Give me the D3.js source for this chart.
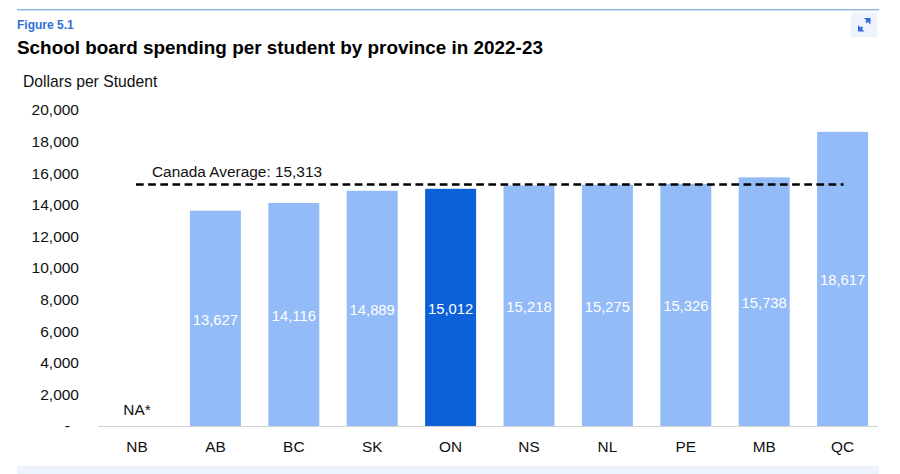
<!DOCTYPE html>
<html>
<head>
<meta charset="utf-8">
<script src="https://cdn.jsdelivr.net/npm/d3@7"></script>
<style>
  html, body { margin: 0; padding: 0; background: #fff; overflow: hidden; }
  text { font-family: "Liberation Sans", Arial, sans-serif; }
</style>
</head>
<body>
<script>
// values
const provinces = ["NB", "AB", "BC", "SK", "ON", "NS", "NL", "PE", "MB", "QC"];
const spending = [null, 13627, 14116, 14889, 15012, 15218, 15275, 15326, 15738, 18617];
const yTicks = [0, 2000, 4000, 6000, 8000, 10000, 12000, 14000, 16000, 18000, 20000];
const canadaAverage = 15313;
const highlighted = "ON";

const width = 900, height = 474;

const svg = d3.select("body").append("svg")
  .attr("width", width)
  .attr("height", height)
  .style("display", "block");

const x = d3.scaleBand()
  .domain(provinces)
  .range([97.8, 881.8])
  .paddingInner(0.35)
  .paddingOuter(0.175);

const y = d3.scaleLinear()
  .domain([0, 20000])
  .range([426, 110]);

// page furniture
svg.append("rect")
  .attr("x", 17).attr("y", 9)
  .attr("width", 862).attr("height", 1.4)
  .attr("fill", "#8db2e8");

svg.append("text")
  .attr("x", 17).attr("y", 28.5)
  .attr("font-size", 12)
  .attr("font-weight", "bold")
  .attr("fill", "#2f6fd6")
  .text("Figure 5.1");

svg.append("text")
  .attr("x", 17).attr("y", 54)
  .attr("font-size", 18.9)
  .attr("font-weight", "bold")
  .attr("fill", "#000")
  .text("School board spending per student by province in 2022-23");

// expand button
const btn = svg.append("g").attr("transform", "translate(851,12.5)");
btn.append("rect")
  .attr("width", 26).attr("height", 24.5)
  .attr("rx", 2)
  .attr("fill", "#edf3fd");
btn.append("path")
  .attr("d", "M7 12.5 L7 19 L13.5 19 Z M19.5 5.5 L13 5.5 L19.5 12 Z")
  .attr("fill", "#2f6fd6");
btn.append("path")
  .attr("d", "M8 18 L11.5 14.5 M18.5 6.5 L15 10")
  .attr("fill", "none")
  .attr("stroke", "#2f6fd6")
  .attr("stroke-width", 1.8);

svg.append("text")
  .attr("x", 23).attr("y", 86.5)
  .attr("font-size", 15.7)
  .attr("fill", "#111")
  .text("Dollars per Student");

// y axis
const yAxis = svg.append("g")
  .attr("transform", "translate(79,0)")
  .call(d3.axisLeft(y)
    .tickValues(yTicks)
    .tickSize(0)
    .tickPadding(0)
    .tickFormat(d => d === 0 ? "-" : d3.format(",")(d)));
yAxis.select(".domain").remove();
yAxis.selectAll("text")
  .attr("font-size", 15.5)
  .attr("font-family", "Liberation Sans, Arial, sans-serif")
  .attr("fill", "#111");
yAxis.selectAll(".tick")
  .filter(d => d === 0)
  .select("text")
  .attr("x", -9);

// bars
const barData = provinces.map((p, i) => ({ province: p, value: spending[i] }))
  .filter(d => d.value !== null);

svg.append("g").selectAll("rect")
  .data(barData)
  .join("rect")
  .attr("x", d => x(d.province))
  .attr("y", d => y(d.value))
  .attr("width", x.bandwidth())
  .attr("height", d => y(0) - y(d.value))
  .attr("fill", d => d.province === highlighted ? "#0c60d8" : "#93bbf7");

svg.append("g").selectAll("text")
  .data(barData)
  .join("text")
  .attr("x", d => x(d.province) + x.bandwidth() / 2)
  .attr("y", d => y(d.value / 2) + 1)
  .attr("dy", "0.35em")
  .attr("text-anchor", "middle")
  .attr("font-size", 14.8)
  .attr("fill", "#fff")
  .text(d => d3.format(",")(d.value));

// x axis
svg.append("line")
  .attr("x1", 98).attr("x2", 878)
  .attr("y1", y(0) + 0.5).attr("y2", y(0) + 0.5)
  .attr("stroke", "#d2d2d2")
  .attr("stroke-width", 1);

const xAxis = svg.append("g")
  .attr("transform", "translate(0," + y(0) + ")")
  .call(d3.axisBottom(x).tickSize(0).tickPadding(15));
xAxis.select(".domain").remove();
xAxis.selectAll("text")
  .attr("font-size", 15.4)
  .attr("font-family", "Liberation Sans, Arial, sans-serif")
  .attr("fill", "#111");

// NB has no data
svg.append("text")
  .attr("x", x("NB") + x.bandwidth() / 2)
  .attr("y", y(0) - 11.5)
  .attr("text-anchor", "middle")
  .attr("font-size", 15.4)
  .attr("fill", "#111")
  .text("NA*");

// average line
svg.append("line")
  .attr("x1", x("NB") + x.bandwidth() / 2 - 1)
  .attr("x2", x("QC") + x.bandwidth() / 2 + 1)
  .attr("y1", y(canadaAverage) + 0.5)
  .attr("y2", y(canadaAverage) + 0.5)
  .attr("stroke", "#000")
  .attr("stroke-width", 2.4)
  .attr("stroke-dasharray", "7.7 4.45");

svg.append("text")
  .attr("x", 152).attr("y", 176.5)
  .attr("font-size", 15.4)
  .attr("fill", "#111")
  .text("Canada Average: " + d3.format(",")(canadaAverage));

// strip at the bottom of the frame
svg.append("rect")
  .attr("x", 17).attr("y", 466)
  .attr("width", 862).attr("height", 8)
  .attr("fill", "#edf3fd");
</script>
</body>
</html>
